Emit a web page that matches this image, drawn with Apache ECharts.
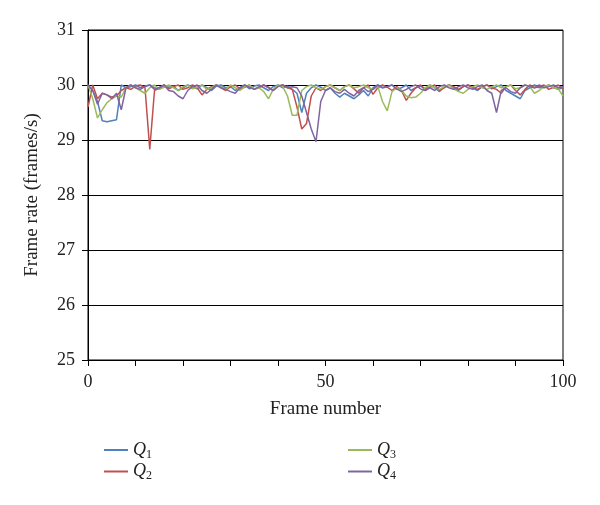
<!DOCTYPE html>
<html><head><meta charset="utf-8">
<script src="https://cdn.jsdelivr.net/npm/echarts@6/dist/echarts.min.js"></script>
<style>html,body{margin:0;padding:0;background:#fff}#c{width:600px;height:505px}</style>
</head><body><div id="c"></div>
<script>
const seriesNames = ['Q1','Q2','Q3','Q4'];
const xTickLabels = [0, 50, 100];
const yTickLabels = [25, 26, 27, 28, 29, 30, 31];
const q1 = [30.00,29.90,29.70,29.35,29.33,29.35,29.37,30.00,29.95,29.97,30.00,29.95,29.98,30.00,29.95,29.92,30.00,29.96,29.98,29.90,29.95,30.00,29.97,29.93,30.00,29.95,29.90,29.98,30.00,29.95,29.97,29.90,29.95,30.00,29.93,29.98,30.00,29.95,29.90,29.97,30.00,29.95,29.98,29.92,29.85,29.50,29.85,29.95,30.00,29.96,29.90,29.95,29.85,29.78,29.85,29.80,29.75,29.82,29.90,29.80,29.95,30.00,29.95,29.97,30.00,29.92,29.95,30.00,29.90,29.95,29.98,29.93,30.00,29.95,29.88,29.97,30.00,29.95,29.90,29.97,30.00,29.95,29.90,29.97,30.00,29.93,29.97,30.00,29.90,29.85,29.80,29.75,29.90,29.95,30.00,29.95,29.97,30.00,29.95,29.92,29.95];
const q2 = [29.60,30.00,29.75,29.85,29.82,29.78,29.80,29.90,29.95,29.92,29.98,30.00,29.95,28.83,29.90,29.95,30.00,29.93,29.97,30.00,29.92,29.95,30.00,29.95,29.82,29.92,29.97,30.00,29.95,29.90,29.97,30.00,29.93,29.96,30.00,29.92,29.95,30.00,29.96,29.90,29.98,30.00,29.95,29.92,29.60,29.20,29.30,29.80,29.95,29.90,29.97,30.00,29.95,29.90,29.97,30.00,29.93,29.85,29.95,30.00,29.83,29.95,30.00,29.96,29.90,29.97,29.90,29.72,29.85,29.95,30.00,29.92,29.96,30.00,29.90,29.95,30.00,29.97,29.92,29.97,30.00,29.95,29.92,29.97,30.00,29.95,29.92,29.85,29.97,30.00,29.90,29.82,29.92,30.00,29.95,29.97,30.00,29.92,29.96,30.00,29.93];
const q3 = [30.00,29.75,29.40,29.55,29.68,29.75,29.80,29.78,29.95,30.00,29.95,29.90,29.85,29.95,30.00,29.92,29.96,30.00,29.95,29.90,29.97,30.00,29.93,29.96,30.00,29.92,29.95,30.00,29.97,29.92,30.00,29.95,29.90,29.97,30.00,29.93,29.95,29.88,29.75,29.92,30.00,29.97,29.80,29.45,29.45,29.90,29.97,30.00,29.95,29.92,29.97,30.00,29.95,29.90,29.97,30.00,29.95,29.97,30.00,29.95,29.92,29.98,29.70,29.53,29.88,29.95,29.90,29.80,29.77,29.78,29.85,29.95,30.00,29.95,29.92,29.97,30.00,29.93,29.88,29.85,29.92,29.97,30.00,29.95,29.92,29.97,30.00,29.95,29.97,30.00,29.93,29.95,30.00,29.97,29.85,29.90,29.97,30.00,29.95,29.93,29.80];
const q4 = [30.00,29.90,29.65,29.85,29.82,29.75,29.85,29.55,29.95,30.00,29.95,29.92,29.97,30.00,29.92,29.95,30.00,29.90,29.88,29.80,29.75,29.90,29.97,30.00,29.90,29.85,29.92,30.00,29.95,29.92,29.88,29.85,29.95,30.00,29.96,29.92,29.97,30.00,29.95,29.90,29.97,30.00,29.95,29.97,29.95,29.80,29.50,29.20,28.97,29.70,29.90,29.95,29.88,29.85,29.92,29.85,29.80,29.90,29.95,29.88,29.92,30.00,29.95,29.97,30.00,29.93,29.88,29.92,29.97,30.00,29.93,29.90,29.95,29.90,29.97,30.00,29.95,29.92,29.97,30.00,29.95,29.92,29.97,30.00,29.90,29.85,29.50,29.90,29.95,29.88,29.85,29.95,30.00,29.97,29.95,30.00,29.95,29.97,30.00,29.95,29.97];

const colors = ['#4F81BD','#C0504D','#9BBB59','#8064A2'];
const allData = [q1,q2,q3,q4];
const font = 'Liberation Serif, DejaVu Serif, serif';

const legendRich = {
  q: {fontFamily: font, fontStyle: 'italic', fontSize: 18, color: '#222'},
  s: {fontFamily: font, fontSize: 12, color: '#222', padding: [9,0,0,0]}
};
const fmt = n => '{q|Q}{s|' + n.slice(1) + '}';

const chart = echarts.init(document.getElementById('c'), null, {renderer:'canvas'});
chart.setOption({
  animation: false,
  color: colors,
  grid: {left: 88, right: 37, top: 30, bottom: 145, show: true, borderColor: '#000', borderWidth: 1},
  legend: [
    {data: [seriesNames[0], seriesNames[1]], orient: 'vertical', left: 99, top: 436, itemGap: 2,
     itemWidth: 24, itemHeight: 2, icon: 'rect', formatter: fmt, textStyle: {rich: legendRich}},
    {data: [seriesNames[2], seriesNames[3]], orient: 'vertical', left: 343, top: 436, itemGap: 2,
     itemWidth: 24, itemHeight: 2, icon: 'rect', formatter: fmt, textStyle: {rich: legendRich}}
  ],
  xAxis: {
    type: 'value', min: 0, max: 100, interval: 10,
    name: 'Frame number', nameLocation: 'middle', nameGap: 40,
    nameTextStyle: {fontFamily: font, fontSize: 19, color: '#222'},
    axisLine: {onZero: false, lineStyle: {color: '#000', width: 1}},
    axisTick: {show: true, length: 6, lineStyle: {color: '#000'}},
    axisLabel: {margin: 13, fontFamily: font, fontSize: 18, color: '#222',
      formatter: v => xTickLabels.indexOf(v) >= 0 ? String(v) : ''},
    splitLine: {show: false}
  },
  yAxis: {
    type: 'value', min: 25, max: 31, interval: 1,
    name: 'Frame rate (frames/s)', nameLocation: 'middle', nameGap: 46,
    nameTextStyle: {fontFamily: font, fontSize: 19, color: '#222'},
    axisLine: {show: true, lineStyle: {color: '#000', width: 1}},
    axisTick: {show: true, length: 6, lineStyle: {color: '#000'}},
    axisLabel: {margin: 13, fontFamily: font, fontSize: 18, color: '#222',
      formatter: v => yTickLabels.indexOf(v) >= 0 ? String(v) : ''},
    splitLine: {show: true, lineStyle: {color: '#000', width: 1}}
  },
  series: seriesNames.map((n, k) => ({
    name: n, type: 'line', showSymbol: false, symbol: 'none',
    lineStyle: {width: 1.5, color: colors[k]},
    data: allData[k].map((v, i) => [i, v])
  }))
});
</script></body></html>
